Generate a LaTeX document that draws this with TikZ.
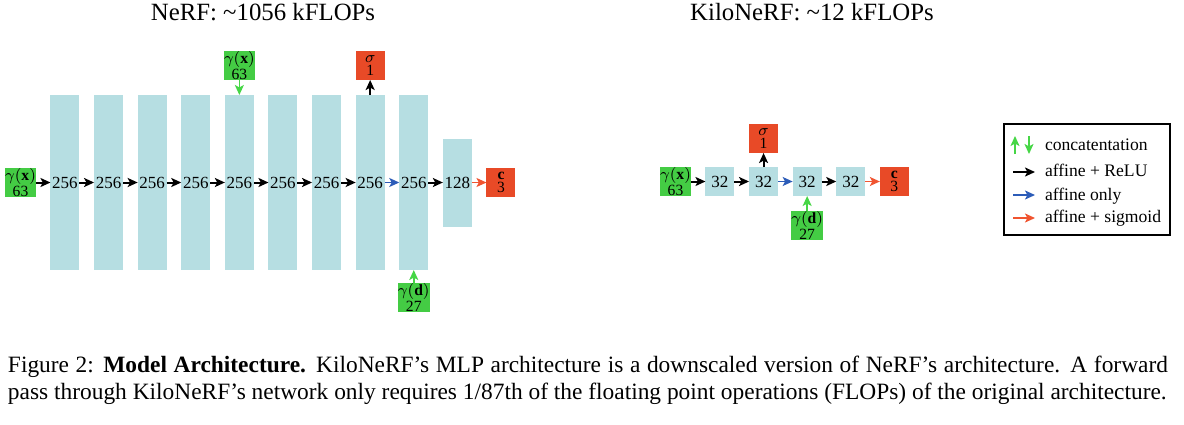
\documentclass[tikz,border=0pt]{standalone}
\usepackage{fontspec}
\setmainfont{Liberation Serif}
\usetikzlibrary{positioning,arrows.meta}
\definecolor{layerblue}{RGB}{182,222,226}
\definecolor{featgreen}{RGB}{68,204,68}
\definecolor{headred}{RGB}{232,74,39}
\definecolor{linblue}{RGB}{44,92,184}
\definecolor{sigred}{RGB}{240,84,48}
\definecolor{catgreen}{RGB}{70,214,70}
\begin{document}
\begin{tikzpicture}[x=0.5pt, y=-0.5pt, node distance=7.3pt,
           every node/.style = {inner sep=0pt, outer sep=0pt, align=center,
             font=\fontsize{8.5}{7}\selectfont},
           layer/.style = {fill=layerblue, minimum width=14.5pt, minimum height=87.5pt},
           small/.style = {fill=layerblue, minimum size=14.5pt},
           feat/.style = {fill=featgreen, minimum size=14.5pt, font=\fontsize{7.8}{6.6}\selectfont},
           head/.style = {fill=headred, minimum size=14.5pt, font=\fontsize{7.8}{6.6}\selectfont},
           title/.style = {anchor=base, font=\fontsize{12.4}{14}\selectfont},
           key/.style = {anchor=base west, font=\fontsize{8.8}{10}\selectfont},
           relu/.style = {line width=1pt, -{Stealth[length=5pt, width=4.5pt, inset=1.2pt]}},
           lin/.style = {relu, line width=0.75pt, linblue},
           sig/.style = {relu, line width=0.75pt, sigred},
           cat/.style = {relu, line width=0.75pt, catgreen}]
  \useasboundingbox (0,0) rectangle (1184,424);
  % NeRF
  \node[title] (nerftitle) at (263,20) {NeRF: \textasciitilde 1056 kFLOPs};
  \node[feat] (nx) at (20.5,182.5) {$\gamma(\mathbf{x})$\\63};
  \node[layer, right=of nx] (n1) {256};
  \node[layer, right=of n1] (n2) {256};
  \node[layer, right=of n2] (n3) {256};
  \node[layer, right=of n3] (n4) {256};
  \node[layer, right=of n4] (n5) {256};
  \node[layer, right=of n5] (n6) {256};
  \node[layer, right=of n6] (n7) {256};
  \node[layer, right=of n7] (n8) {256};
  \node[layer, right=of n8] (n9) {256};
  \node[layer, right=of n9, minimum height=44pt] (n10) {128};
  \node[head, right=of n10] (nc) {$\mathbf{c}$\\3};
  \node[feat, above=7.5pt of n5] (nxtop) {$\gamma(\mathbf{x})$\\63};
  \node[head, above=7.5pt of n8] (nsigma) {$\sigma$\\1};
  \node[feat, below=6.5pt of n9] (nd) {$\gamma(\mathbf{d})$\\27};
  \draw[relu] (nx) -- (n1);
  \draw[relu] (n1) -- (n2);
  \draw[relu] (n2) -- (n3);
  \draw[relu] (n3) -- (n4);
  \draw[relu] (n4) -- (n5);
  \draw[relu] (n5) -- (n6);
  \draw[relu] (n6) -- (n7);
  \draw[relu] (n7) -- (n8);
  \draw[lin] (n8) -- (n9);
  \draw[relu] (n9) -- (n10);
  \draw[sig] (n10) -- (nc);
  \draw[cat] (nxtop) -- (n5);
  \draw[relu] (n8) -- (nsigma);
  \draw[cat] (nd) -- (n9);
  % KiloNeRF
  \node[title] (kilotitle) at (812,20) {KiloNeRF: \textasciitilde 12 kFLOPs};
  \node[feat] (kx) at (675.5,181.5) {$\gamma(\mathbf{x})$\\63};
  \node[small, right=of kx] (k1) {32};
  \node[small, right=of k1] (k2) {32};
  \node[small, right=of k2] (k3) {32};
  \node[small, right=of k3] (k4) {32};
  \node[head, right=of k4] (kc) {$\mathbf{c}$\\3};
  \node[head, above=7pt of k2] (ksigma) {$\sigma$\\1};
  \node[feat, below=7.5pt of k3] (kd) {$\gamma(\mathbf{d})$\\27};
  \draw[relu] (kx) -- (k1);
  \draw[relu] (k1) -- (k2);
  \draw[lin] (k2) -- (k3);
  \draw[relu] (k3) -- (k4);
  \draw[sig] (k4) -- (kc);
  \draw[relu] (k2) -- (ksigma);
  \draw[cat] (kd) -- (k3);
  % legend
  \node[draw, line width=0.6pt, minimum width=83pt, minimum height=55.5pt] (legend) at (1087,179.5) {};
  \node[key] (lcat) at (1045,150) {concatentation};
  \node[key] (lrelu) at (1045,176) {affine + ReLU};
  \node[key] (llin) at (1045,200) {affine only};
  \node[key] (lsig) at (1045,222) {affine + sigmoid};
  \coordinate (upa) at (1015,154);
  \coordinate (upb) at (1015,136);
  \coordinate (downa) at (1029,136);
  \coordinate (downb) at (1029,154);
  \coordinate (relua) at (1013,172);
  \coordinate (relub) at (1035,172);
  \coordinate (lina) at (1013,195);
  \coordinate (linb) at (1035,195);
  \coordinate (siga) at (1013,218);
  \coordinate (sigb) at (1035,218);
  \draw[cat] (upa) -- (upb);
  \draw[cat] (downa) -- (downb);
  \draw[relu] (relua) -- (relub);
  \draw[lin] (lina) -- (linb);
  \draw[sig] (siga) -- (sigb);
  % caption
  \node[anchor=north west, text width=580pt, align=justify,
        font=\fontsize{11.7}{13.5}\selectfont] (caption) at (8,356)
    {Figure 2: \textbf{Model Architecture.} KiloNeRF's MLP architecture is a downscaled version of NeRF's architecture. A forward\linebreak
     pass through KiloNeRF's network only requires 1/87th of the floating point operations (FLOPs) of the original architecture.};
\end{tikzpicture}
\end{document}
